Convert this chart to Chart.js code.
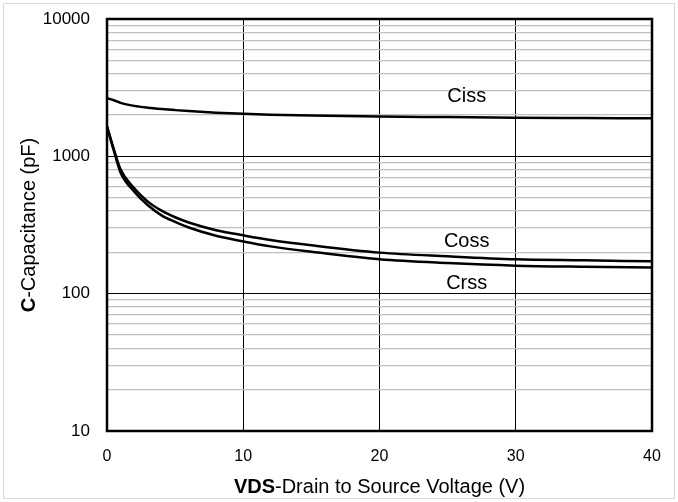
<!DOCTYPE html>
<html>
<head>
<meta charset="utf-8">
<script src="https://cdn.jsdelivr.net/npm/chart.js@4/dist/chart.umd.min.js"></script>
<style>
  body { margin: 0; background: #fff; }
  #wrap { width: 678px; height: 502px; }
</style>
</head>
<body>
<div id="wrap"><canvas id="capChart" width="678" height="502"></canvas></div>
<script>
// values (VDS in volts, capacitance in pF)
var vds  = [0, 0.5, 1, 2, 3, 4, 5, 6, 8, 10, 12, 15, 20, 25, 30, 35, 40];
var ciss = [2650, 2560, 2450, 2330, 2260, 2210, 2170, 2135, 2080, 2040, 2010, 1980, 1950, 1930, 1910, 1900, 1890];
var coss = [1650, 1130, 800, 585, 468, 402, 360, 330, 290, 266, 246, 225, 199, 187, 178, 175, 172];
var crss = [1650, 1100, 760, 553, 440, 372, 333, 303, 264, 240, 221, 202, 178, 167, 160, 157, 155];

var xTicks = [0, 10, 20, 30, 40];
var yTicks = [10, 100, 1000, 10000];

// where the series names sit (data coords)
var seriesNames = ['Ciss', 'Coss', 'Crss'];
var namePos = [[26.4, 2730], [26.4, 238], [26.4, 119]];

function toPts(ys) {
  return vds.map(function (v, i) { return { x: v, y: ys[i] }; });
}

// y grid: decades plus 2..9 in between
var yGrid = [];
for (var d = 0; d < yTicks.length - 1; d++) {
  for (var m = 1; m < 10; m++) yGrid.push(yTicks[d] * m);
}
yGrid.push(yTicks[yTicks.length - 1]);

var FONT = '"Liberation Sans", Arial, sans-serif';

// draws a title with a bold lead part, centred on (0,0) of the current transform
function mixedTitle(c, bold, rest, size) {
  c.font = 'bold ' + size + 'px ' + FONT;
  var wb = c.measureText(bold).width;
  c.font = size + 'px ' + FONT;
  var wr = c.measureText(rest).width;
  var x0 = -(wb + wr) / 2;
  c.textAlign = 'left';
  c.textBaseline = 'middle';
  c.font = 'bold ' + size + 'px ' + FONT;
  c.fillText(bold, x0, 0);
  c.font = size + 'px ' + FONT;
  c.fillText(rest, x0 + wb, 0);
}

var frame = {
  id: 'frame',
  beforeDraw: function (chart) {
    var c = chart.ctx;
    c.save();
    c.fillStyle = '#fff';
    c.fillRect(0, 0, chart.width, chart.height);
    c.strokeStyle = '#d9d9d9';
    c.lineWidth = 1;
    c.strokeRect(3.5, 3.5, chart.width - 7, chart.height - 7);
    c.restore();
  },
  afterDraw: function (chart) {
    var c = chart.ctx, a = chart.chartArea;
    var xs = chart.scales.x, ys = chart.scales.y;
    c.save();
    c.strokeStyle = '#000';
    c.lineWidth = 2.5;
    c.strokeRect(a.left, a.top, a.right - a.left, a.bottom - a.top);

    // series names
    c.fillStyle = '#000';
    c.font = '20px ' + FONT;
    c.textAlign = 'center';
    c.textBaseline = 'middle';
    seriesNames.forEach(function (n, i) {
      c.fillText(n, xs.getPixelForValue(namePos[i][0]), ys.getPixelForValue(namePos[i][1]));
    });

    c.save();
    c.translate((a.left + a.right) / 2, 487);
    mixedTitle(c, 'VDS', '-Drain to Source Voltage (V)', 20);
    c.restore();

    c.translate(29, (a.top + a.bottom) / 2);
    c.rotate(-Math.PI / 2);
    mixedTitle(c, 'C', '-Capacitance (pF)', 20);
    c.restore();
  }
};

function lineSet(label, ys) {
  return {
    label: label,
    data: toPts(ys),
    borderColor: '#000',
    borderWidth: 2.5,
    pointRadius: 0,
    cubicInterpolationMode: 'monotone',
    fill: false
  };
}

function noPad(s) {
  s.paddingTop = 0; s.paddingBottom = 0;
  s.paddingLeft = 0; s.paddingRight = 0;
}

var chart = new Chart(document.getElementById('capChart'), {
  type: 'line',
  data: {
    datasets: [lineSet('Ciss', ciss), lineSet('Coss', coss), lineSet('Crss', crss)]
  },
  options: {
    responsive: false,
    animation: false,
    layout: { padding: { top: 19, right: 26, left: 0, bottom: 0 } },
    plugins: { legend: { display: false }, tooltip: { enabled: false } },
    scales: {
      x: {
        type: 'linear',
        min: 0,
        max: 40,
        afterFit: function (s) { s.height = 71; noPad(s); },
        afterBuildTicks: function (s) { s.ticks = xTicks.map(function (v) { return { value: v }; }); },
        grid: { color: '#000', lineWidth: 1, drawTicks: false },
        border: { display: false },
        ticks: { color: '#000', padding: 16, font: { family: FONT, size: 16 } }
      },
      y: {
        type: 'logarithmic',
        min: 10,
        max: 10000,
        afterFit: function (s) { s.width = 107; noPad(s); },
        afterBuildTicks: function (s) { s.ticks = yGrid.map(function (v) { return { value: v }; }); },
        grid: {
          drawTicks: false,
          color: function (ctx) {
            return yTicks.indexOf(ctx.tick.value) >= 0 ? '#000' : '#c0c0c0';
          },
          lineWidth: function (ctx) {
            return yTicks.indexOf(ctx.tick.value) >= 0 ? 1 : 1.3;
          }
        },
        border: { display: false },
        ticks: {
          color: '#000',
          padding: 17,
          autoSkip: false,
          font: { family: FONT, size: 17 },
          callback: function (v) { return yTicks.indexOf(v) >= 0 ? String(v) : ''; }
        }
      }
    }
  },
  plugins: [frame]
});
</script>
</body>
</html>
